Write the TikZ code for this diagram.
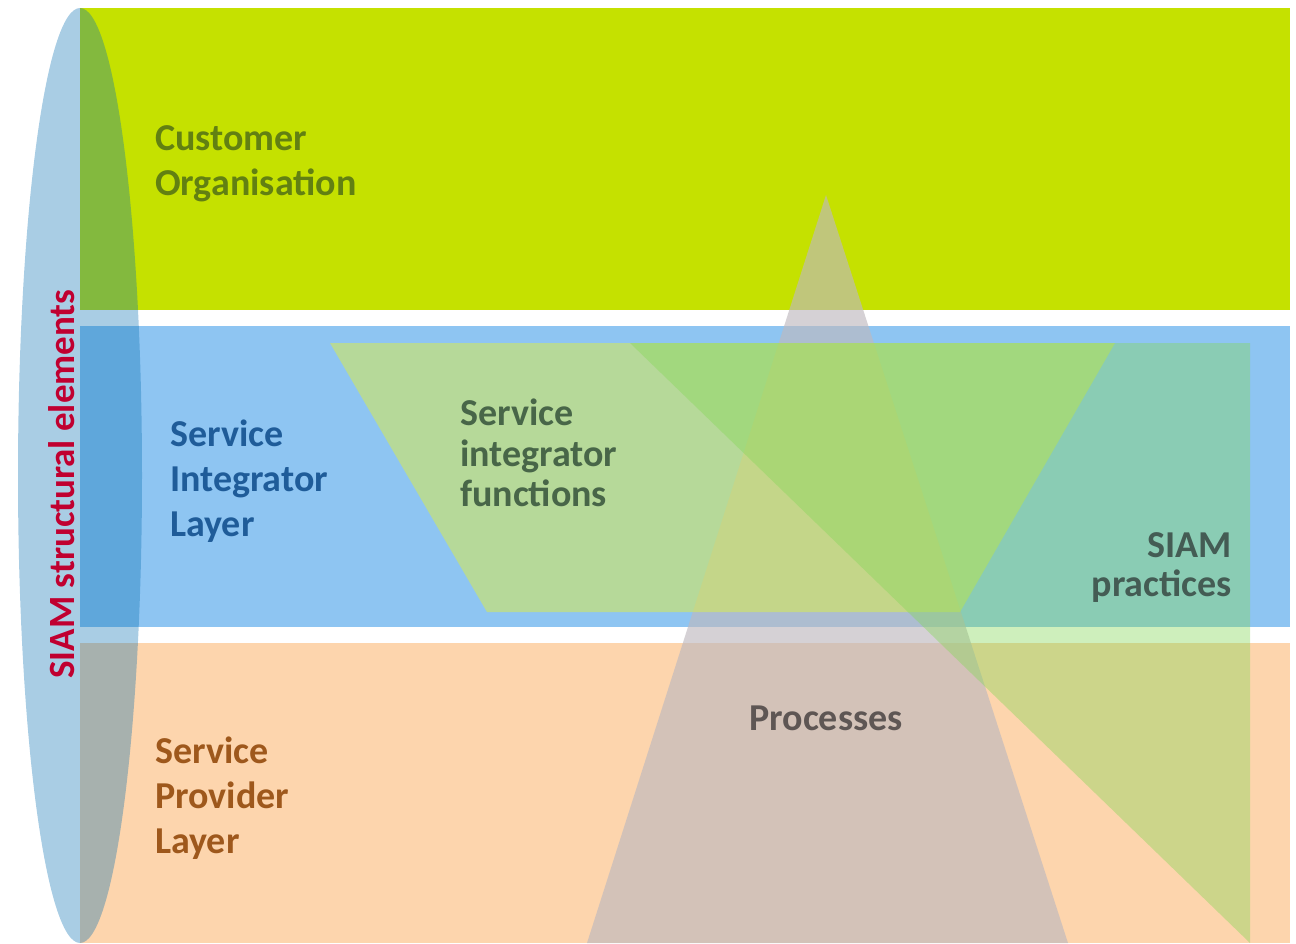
\documentclass[tikz,border=0pt]{standalone}
\usepackage{fontspec}
\setmainfont{Carlito}
\usetikzlibrary{positioning}

\definecolor{custgreen}{RGB}{197,225,0}
\definecolor{intblue}{RGB}{142,197,242}
\definecolor{provorange}{RGB}{253,213,173}
\definecolor{elblue}{RGB}{9,112,178}
\definecolor{procgray}{RGB}{190,185,190}
\definecolor{funcgreen}{RGB}{215,235,80}
\definecolor{pracgreen}{RGB}{132,215,87}
\definecolor{custtext}{RGB}{98,128,18}
\definecolor{inttext}{RGB}{31,92,153}
\definecolor{provtext}{RGB}{158,88,28}
\definecolor{functext}{RGB}{72,102,72}
\definecolor{practext}{RGB}{68,92,84}
\definecolor{proctext}{RGB}{94,86,84}
\definecolor{elred}{RGB}{192,0,48}

\begin{document}
\begin{tikzpicture}[x=1pt, y=-1pt,
    lbl/.style = {font=\bfseries\fontsize{38}{45}\selectfont, inner sep=0pt, align=left, anchor=north west}]
    \useasboundingbox (0,0) rectangle (1296,943);

    \fill[custgreen] (80,8) rectangle (1290,310);
    \fill[intblue] (80,326) rectangle (1290,627);
    \fill[provorange] (80,643) rectangle (1290,943);
    \fill[elblue, opacity=0.35] (80,475.5) ellipse [x radius=62, y radius=467.5];

    \fill[procgray, opacity=0.65] (826,195) -- (1068,943) -- (587,943) -- cycle;
    \fill[funcgreen, opacity=0.55] (330,343) -- (1115,343) -- (960,612) -- (487,612) -- cycle;
    \fill[pracgreen, opacity=0.4] (630,343) -- (1250,343) -- (1250,943) -- cycle;

    \node[lbl, text=custtext] (co) at (155,125) {Customer\\Organisation};
    \node[lbl, text=inttext] (sil) at (170,420) {Service\\Integrator\\Layer};
    \node[lbl, text=provtext] (spl) at (155,737) {Service\\Provider\\Layer};
    \node[lbl, text=functext, font=\bfseries\fontsize{38}{40.5}\selectfont] (sif) at (460,399) {Service\\integrator\\functions};
    \node[lbl, text=practext, align=right, anchor=north east, font=\bfseries\fontsize{38}{39}\selectfont] (sp) at (1232,532) {SIAM\\practices};
    \node[lbl, text=proctext, anchor=center] (pr) at (826,718) {Processes};
    \node[lbl, text=elred, anchor=center, rotate=90, font=\bfseries\fontsize{37}{45}\selectfont] (se) at (62,484) {SIAM structural elements};
\end{tikzpicture}
\end{document}
